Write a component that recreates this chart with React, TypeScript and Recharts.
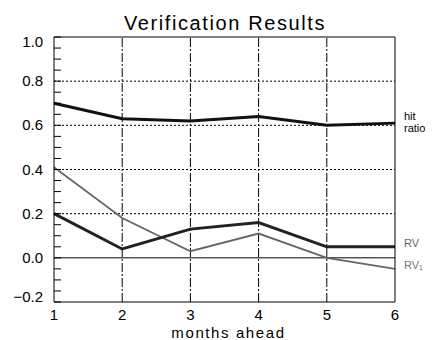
import { LineChart, Line, XAxis, YAxis, ReferenceLine } from "recharts";

const months = [1, 2, 3, 4, 5, 6];
const hitRatio = [0.7, 0.63, 0.62, 0.64, 0.6, 0.61];
const rv = [0.2, 0.04, 0.13, 0.16, 0.05, 0.05];
const rv1 = [0.41, 0.18, 0.03, 0.11, 0.0, -0.05];

const yTicks = [
  -0.2, -0.15, -0.1, -0.05, 0, 0.05, 0.1, 0.15, 0.2, 0.25, 0.3, 0.35, 0.4,
  0.45, 0.5, 0.55, 0.6, 0.65, 0.7, 0.75, 0.8, 0.85, 0.9, 0.95, 1.0,
];
const yLabels = [-0.2, 0, 0.2, 0.4, 0.6, 0.8, 1.0];
const hGrid = [0.2, 0.4, 0.6, 0.8];
const vGrid = [2, 3, 4, 5];

const data = months.map((m, i) => ({
  month: m,
  hit: hitRatio[i],
  rv: rv[i],
  rv1: rv1[i],
}));

const FONT = "'Liberation Sans', Arial, sans-serif";

// left axis: only label the major ticks, pull the end labels inside the box
const YTick = (props: any) => {
  const { x, y, payload } = props;
  const v = payload.value;
  if (!yLabels.includes(v)) return null;
  let dy = 5;
  if (v >= 0.99) dy += 5;
  if (v <= -0.19) dy -= 5;
  const txt = v.toFixed(1).replace("-", "\u2212");
  return (
    <text x={x} y={y + dy} textAnchor="end" fontSize={15} fill="#000" fontFamily={FONT}>
      {txt}
    </text>
  );
};

const endLabel = (lines: string[], color: string, dx: number, dy: number) => (p: any) => {
  if (p.index !== months.length - 1) return null;
  return (
    <text x={p.x + dx} y={p.y + dy} fontSize={11} fill={color} fontFamily={FONT}>
      {lines.map((l, i) => (
        <tspan key={l} x={p.x + dx} dy={i ? 12 : 0}>
          {l}
        </tspan>
      ))}
    </text>
  );
};

const App = () => {
  return (
    <div style={{ position: "absolute", left: 0, top: 0, width: 436, height: 340, background: "#fff" }}>
      <div
        style={{
          position: "absolute",
          top: 13,
          left: 0,
          width: 450,
          textAlign: "center",
          fontFamily: FONT,
          fontSize: 20,
          lineHeight: "20px",
          letterSpacing: 1.6,
          color: "#000",
        }}
      >
        Verification Results
      </div>
      <LineChart
        width={436}
        height={340}
        data={data}
        margin={{ top: 37, right: 39, bottom: 0, left: 0 }}
      >
        <XAxis
          dataKey="month"
          type="number"
          domain={[1, 6]}
          ticks={months}
          tickLine={false}
          tickSize={0}
          tickMargin={7}
          axisLine={{ stroke: "#000" }}
          height={38}
          tick={{ fill: "#000", fontSize: 15, fontFamily: FONT }}
          label={{
            value: "months ahead",
            position: "insideBottom",
            offset: 2,
            dx: 4,
            style: { fill: "#000", fontSize: 15, fontFamily: FONT, letterSpacing: 1.6 },
          }}
        />
        <YAxis
          yAxisId="l"
          type="number"
          domain={[-0.2, 1.0]}
          ticks={yTicks}
          interval={0}
          width={54}
          tickSize={-7}
          tickMargin={18}
          tickLine={{ stroke: "#000" }}
          axisLine={{ stroke: "#000" }}
          tick={<YTick />}
          allowDataOverflow
        />
        <YAxis
          yAxisId="r"
          orientation="right"
          type="number"
          domain={[-0.2, 1.0]}
          ticks={yTicks}
          interval={0}
          width={2}
          tickSize={7}
          tickLine={{ stroke: "#000" }}
          axisLine={{ stroke: "#000" }}
          tick={false}
          allowDataOverflow
        />
        {hGrid.map((g) => (
          <ReferenceLine key={"h" + g} yAxisId="l" y={g} stroke="#000" strokeDasharray="2 2" />
        ))}
        {vGrid.map((g) => (
          <ReferenceLine key={"v" + g} yAxisId="l" x={g} stroke="#000" strokeDasharray="9 2 2 2" />
        ))}
        <ReferenceLine yAxisId="l" y={0} stroke="#000" />
        <ReferenceLine yAxisId="l" y={1} stroke="#000" />
        <Line
          yAxisId="l"
          dataKey="rv1"
          stroke="#666"
          strokeWidth={1.8}
          dot={false}
          isAnimationActive={false}
          label={endLabel(["RV\u2081"], "#777", 9, 0)}
        />
        <Line
          yAxisId="l"
          dataKey="rv"
          stroke="#222"
          strokeWidth={3}
          dot={false}
          isAnimationActive={false}
          label={endLabel(["RV"], "#666", 9, 0)}
        />
        <Line
          yAxisId="l"
          dataKey="hit"
          stroke="#111"
          strokeWidth={3}
          dot={false}
          isAnimationActive={false}
          label={endLabel(["hit", "ratio"], "#000", 9, -3)}
        />
      </LineChart>
    </div>
  );
};

export default App;
